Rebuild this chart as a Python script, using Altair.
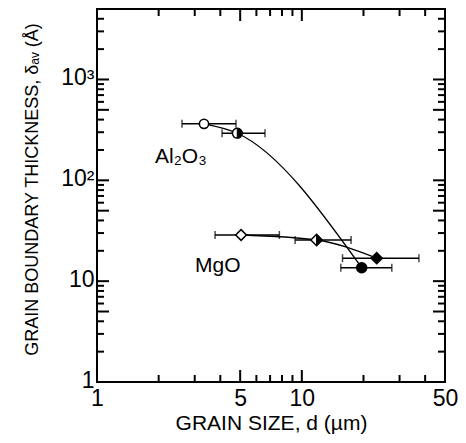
import altair as alt
import pandas as pd

# ---------------- data ----------------
al_d = [3.33, 4.84, 19.6]          # grain size (um)
al_d_lo = [2.60, 4.08, 15.5]
al_d_hi = [4.77, 6.61, 27.5]
al_t = [363, 293, 13.6]            # boundary thickness (A)

mgo_d = [5.05, 11.8, 23.2]
mgo_d_lo = [3.77, 9.27, 15.8]
mgo_d_hi = [7.77, 17.4, 37.3]
mgo_t = [28.7, 25.6, 16.9]

fill_kind = ["open", "half", "full"]

x_labels = [1, 5, 10, 50]
y_labels = [1, 10, 100, 1000]
x_ticks_long = [5, 10]
x_ticks_short = [2, 3, 4, 6, 7, 8, 9, 20, 30, 40]
y_ticks_long = [5, 10, 50, 100, 500, 1000]
y_ticks_short = [2, 3, 4, 6, 7, 8, 9, 20, 30, 40, 60, 70, 80, 90,
                 200, 300, 400, 600, 700, 800, 900, 2000, 3000, 4000]

labels_txt = ["Al₂O₃", "MgO"]
labels_x = [1.92, 3.01]
labels_y = [149, 12.4]

# ---------------- build tables ----------------
W, H = 348, 373
FONT = "Liberation Sans"
xscale = alt.Scale(type="log", domain=[1, 50], nice=False)
yscale = alt.Scale(type="log", domain=[1, 5000], nice=False)

shape_of = {"Al2O3": "circle", "MgO": "diamond"}
half_of = {"Al2O3": "M0,-1A1,1,0,0,1,0,1Z", "MgO": "M0,-1L1,0L0,1Z"}
size_of = {("Al2O3", "open"): 85, ("Al2O3", "half"): 95, ("Al2O3", "full"): 100,
           ("MgO", "open"): 115, ("MgO", "half"): 130, ("MgO", "full"): 125}

rows = []
for s, d, lo, hi, t in [("Al2O3", al_d, al_d_lo, al_d_hi, al_t),
                        ("MgO", mgo_d, mgo_d_lo, mgo_d_hi, mgo_t)]:
    for i in range(len(d)):
        k = fill_kind[i]
        rows.append(dict(series=s, d=d[i], lo=lo[i], hi=hi[i], t=t[i], kind=k,
                         shape=shape_of[s], half=half_of[s],
                         fill="black" if k == "full" else "white",
                         size=size_of[(s, k)]))
df = pd.DataFrame(rows)

x_axis = alt.Axis(values=x_labels, format="~g", ticks=False, domain=False, grid=False,
                  labelFontSize=23, labelFont=FONT, labelColor="black", labelPadding=5,
                  labelFlush=False, labelAngle=0,
                  title="GRAIN SIZE, d  (µm)", titleFontSize=21, titleFont=FONT,
                  titleFontWeight="normal", titleColor="black",
                  titleBaseline="alphabetic", titleY=47)
y_axis = alt.Axis(values=y_labels, ticks=False, domain=False, grid=False,
                  labelExpr="datum.value >= 1000 ? '10³' : datum.value >= 100 ? '10²' : datum.value >= 10 ? '10' : '1'",
                  labelFontSize=23, labelFont=FONT, labelColor="black", labelPadding=3,
                  labelFlush=False, labelOffset=-2,
                  title="GRAIN BOUNDARY THICKNESS, δₐᵥ (Å)", titleFontSize=18, titleFont=FONT,
                  titleFontWeight="normal", titleColor="black", titleAngle=270,
                  titleBaseline="alphabetic", titleX=-60, titleY=180)

def X(field="d"):
    return alt.X(f"{field}:Q", scale=xscale, axis=x_axis)

def Y(field="t"):
    return alt.Y(f"{field}:Q", scale=yscale, axis=y_axis)

base = alt.Chart(df)

curves = base.mark_line(interpolate="monotone", color="black", strokeWidth=1.3).encode(
    x=X("d"), y=Y("t"), detail="series:N", order="d:Q")

bars = base.mark_rule(color="black", strokeWidth=1.5).encode(
    x=X("lo"), x2="hi:Q", y=Y("t"))
cap_lo = base.mark_point(shape="M0,-1L0,1", color="black", strokeWidth=1.5, size=64,
                         filled=False).encode(x=X("lo"), y=Y("t"))
cap_hi = base.mark_point(shape="M0,-1L0,1", color="black", strokeWidth=1.5, size=64,
                         filled=False).encode(x=X("hi"), y=Y("t"))

markers = base.mark_point(stroke="black", strokeWidth=1.5, opacity=1).encode(
    x=X("d"), y=Y("t"),
    shape=alt.Shape("shape:N", scale=None),
    fill=alt.Fill("fill:N", scale=None),
    size=alt.Size("size:Q", scale=None))
halves = base.mark_point(fill="black", stroke="black", strokeWidth=1, opacity=1,
                         filled=True).transform_filter(
    alt.datum.kind == "half").encode(
    x=X("d"), y=Y("t"),
    shape=alt.Shape("half:N", scale=None),
    size=alt.Size("size:Q", scale=None))

lab_df = pd.DataFrame(dict(txt=labels_txt, x=labels_x, y=labels_y))
labels = alt.Chart(lab_df).mark_text(align="left", baseline="alphabetic", fontSize=21,
                                     font=FONT, color="black").encode(
    x=X("x"), y=Y("y"), text="txt:N")

def xticks(vals, length):
    tdf = pd.DataFrame(dict(v=vals))
    c = alt.Chart(tdf).mark_rule(color="black", strokeWidth=2)
    return [c.encode(x=X("v"), y=alt.value(H), y2=alt.value(H - length)),
            c.encode(x=X("v"), y=alt.value(0), y2=alt.value(length))]

def yticks(vals, length):
    tdf = pd.DataFrame(dict(v=vals))
    c = alt.Chart(tdf).mark_rule(color="black", strokeWidth=2)
    return [c.encode(y=Y("v"), x=alt.value(0), x2=alt.value(length)),
            c.encode(y=Y("v"), x=alt.value(W), x2=alt.value(W - length))]

tick_layers = (xticks(x_ticks_long, 12) + xticks(x_ticks_short, 7)
               + yticks(y_ticks_long, 12) + yticks(y_ticks_short, 7))

chart = alt.layer(curves, bars, cap_lo, cap_hi, markers, halves, labels,
                  *tick_layers).properties(
    width=W, height=H,
    autosize=alt.AutoSizeParams(type="none"),
    padding={"left": 89, "top": 1, "right": 13, "bottom": 53},
    background="white",
).configure_view(stroke="black", strokeWidth=2)

chart.save("out.html", embed_options={"renderer": "svg", "actions": False})
